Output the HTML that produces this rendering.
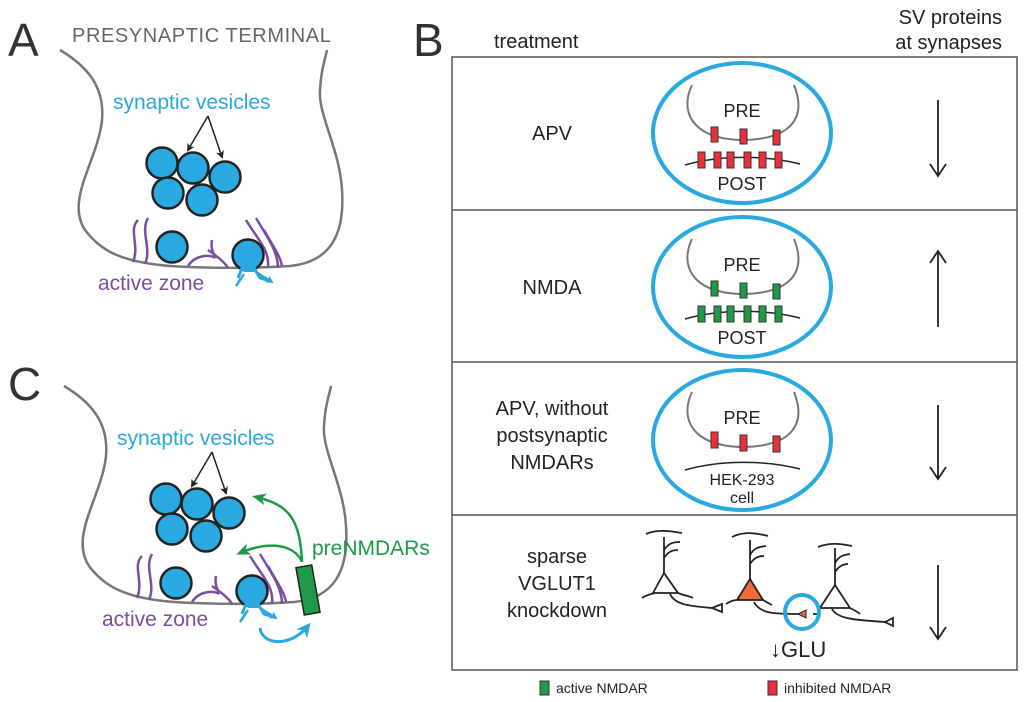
<!DOCTYPE html>
<html><head><meta charset="utf-8"><style>
html,body{margin:0;padding:0;background:#fff;}
svg{display:block;}
text{font-family:"Liberation Sans",sans-serif;}
</style></head><body>
<svg width="1024" height="702" viewBox="0 0 1024 702" xmlns="http://www.w3.org/2000/svg">
<defs>
<marker id="ak" markerWidth="8" markerHeight="8" refX="6" refY="4" orient="auto" markerUnits="userSpaceOnUse"><path d="M0,0 L8,4 L0,8 L2,4 z" fill="#222"/></marker>
<marker id="ag" markerWidth="14" markerHeight="12" refX="10" refY="6" orient="auto" markerUnits="userSpaceOnUse"><path d="M0,0 L14,6 L0,12 L4,6 z" fill="#1e9a48"/></marker>
<marker id="ab" markerWidth="14" markerHeight="14" refX="10" refY="7" orient="auto" markerUnits="userSpaceOnUse"><path d="M0,0 L14,7 L0,14 L4,7 z" fill="#29a9e0"/></marker>
<marker id="ab2" markerWidth="8" markerHeight="8" refX="6" refY="4" orient="auto" markerUnits="userSpaceOnUse"><path d="M0,0 L8,4 L0,8 L2,4 z" fill="#29a9e0"/></marker>
<g id="term">
<path d="M60,50 C85,65 105,85 102,120 C98,160 65,200 85,230 C100,250 120,262 170,266 C220,269 260,268 290,266 C330,262 345,235 342,190 C340,150 318,115 320,90 C321,70 325,60 327,50" fill="none" stroke="#777" stroke-width="2.5"/>
<g fill="none" stroke="#7a4fa0" stroke-width="2.5">
<path d="M138,220 C128,230 140,245 133,262"/>
<path d="M148,218 C140,232 152,248 145,264"/>
<path d="M188,266 C195,255 210,254 215,258 M208,250 C215,255 225,262 228,268 M212,240 C210,250 215,255 215,258"/>
<path d="M246,220 C258,240 270,250 268,268"/>
<path d="M256,218 C268,238 278,252 278,268"/>
<path d="M264,230 C272,245 280,255 282,266"/>
</g>
<g fill="#29a9e0" stroke="#222" stroke-width="2.5">
<circle cx="162" cy="163" r="15.5"/><circle cx="193" cy="168" r="15.5"/><circle cx="225" cy="177" r="15.5"/>
<circle cx="168" cy="193" r="15.5"/><circle cx="202" cy="200" r="15.5"/>
<circle cx="172" cy="247" r="15.5"/><circle cx="248" cy="255" r="15.5"/>
</g>
<path d="M242,268 L238,278 M254,268 L260,278 L270,281" fill="none" stroke="#29a9e0" stroke-width="3"/>
<path d="M240,266 L256,266 L254,272 L244,272 z" fill="#29a9e0"/>
<path d="M244,274 L236,286 M256,272 L272,282" stroke="#29a9e0" stroke-width="2.5" marker-end="url(#ab2)"/>
<line x1="208" y1="116" x2="188" y2="150" stroke="#222" stroke-width="1.5" marker-end="url(#ak)"/>
<line x1="208" y1="116" x2="222" y2="157" stroke="#222" stroke-width="1.5" marker-end="url(#ak)"/>
<text x="113" y="109" font-size="21" fill="#29a9e0">synaptic vesicles</text>
<text x="98" y="290" font-size="21" fill="#7a4fa0">active zone</text>
</g>
</defs>

<text x="8" y="56" font-size="46" fill="#333">A</text>
<text x="72" y="42" font-size="20" fill="#666" letter-spacing="0.6">PRESYNAPTIC  TERMINAL</text>
<use href="#term"/>

<text x="8" y="400" font-size="46" fill="#333">C</text>
<g transform="translate(4,336)"><use href="#term"/></g>
<rect x="300" y="566" width="16" height="48" fill="#1e9a48" stroke="#222" stroke-width="1.5" transform="rotate(-10 308 590)"/>
<text x="312" y="555" font-size="21" fill="#1e9a48">preNMDARs</text>
<path d="M302,562 C300,520 290,505 256,497" fill="none" stroke="#1e9a48" stroke-width="2.5" marker-end="url(#ag)"/>
<path d="M302,562 C295,545 270,540 240,553" fill="none" stroke="#1e9a48" stroke-width="2.5" marker-end="url(#ag)"/>
<path d="M260,628 C262,645 290,648 308,626" fill="none" stroke="#29a9e0" stroke-width="3" marker-end="url(#ab)"/>

<text x="413" y="56" font-size="46" fill="#333">B</text>
<text x="494" y="48" font-size="20" fill="#222">treatment</text>
<text x="1002" y="24" font-size="20" fill="#222" text-anchor="end">SV proteins</text>
<text x="1002" y="49" font-size="20" fill="#222" text-anchor="end">at synapses</text>
<rect x="452" y="57" width="565" height="613" fill="none" stroke="#555" stroke-width="1.5"/>
<line x1="452" y1="210" x2="1017" y2="210" stroke="#555" stroke-width="1.5"/>
<line x1="452" y1="362" x2="1017" y2="362" stroke="#555" stroke-width="1.5"/>
<line x1="452" y1="515" x2="1017" y2="515" stroke="#555" stroke-width="1.5"/>

<g font-size="20" fill="#222" text-anchor="middle">
<text x="552" y="140">APV</text>
<text x="552" y="294">NMDA</text>
<text x="552" y="415">APV, without</text>
<text x="552" y="442">postsynaptic</text>
<text x="552" y="469">NMDARs</text>
<text x="557" y="563">sparse</text>
<text x="557" y="590">VGLUT1</text>
<text x="557" y="617">knockdown</text>
</g>

<g stroke="#222" stroke-width="1.8" fill="none">
<path d="M938,100 V175 M930,164 L938,176 L946,164"/>
<path d="M938,327 V252 M930,263 L938,251 L946,263"/>
<path d="M938,405 V478 M930,467 L938,479 L946,467"/>
<path d="M938,565 V638 M930,627 L938,639 L946,627"/>
</g>

<!-- row 1 -->
<g>
<ellipse cx="742" cy="133" rx="89" ry="70" fill="none" stroke="#29a9e0" stroke-width="4"/>
<path d="M692,85 C680,110 690,138 740,140 C795,140 806,115 794,85" fill="none" stroke="#777" stroke-width="2"/>
<text x="742" y="117" font-size="18" fill="#222" text-anchor="middle">PRE</text>
<path d="M685,165 C720,155 765,155 800,164" fill="none" stroke="#222" stroke-width="1.5"/>
<g fill="#e8313b" stroke="#333" stroke-width="1">
<rect x="711" y="127" width="7" height="15"/><rect x="740" y="129" width="7" height="15"/><rect x="773" y="130" width="7" height="15"/>
<rect x="698" y="152" width="7" height="16"/><rect x="714" y="152" width="7" height="16"/><rect x="727" y="152" width="7" height="16"/><rect x="744" y="152" width="7" height="16"/><rect x="759" y="152" width="7" height="16"/><rect x="775" y="152" width="7" height="16"/>
</g>
<text x="742" y="190" font-size="18" fill="#222" text-anchor="middle">POST</text>
</g>
<!-- row 2 -->
<g transform="translate(0,154)">
<ellipse cx="742" cy="133" rx="89" ry="70" fill="none" stroke="#29a9e0" stroke-width="4"/>
<path d="M692,85 C680,110 690,138 740,140 C795,140 806,115 794,85" fill="none" stroke="#777" stroke-width="2"/>
<text x="742" y="117" font-size="18" fill="#222" text-anchor="middle">PRE</text>
<path d="M685,165 C720,155 765,155 800,164" fill="none" stroke="#222" stroke-width="1.5"/>
<g fill="#1e9a48" stroke="#333" stroke-width="1">
<rect x="711" y="127" width="7" height="15"/><rect x="740" y="129" width="7" height="15"/><rect x="773" y="130" width="7" height="15"/>
<rect x="698" y="152" width="7" height="16"/><rect x="714" y="152" width="7" height="16"/><rect x="727" y="152" width="7" height="16"/><rect x="744" y="152" width="7" height="16"/><rect x="759" y="152" width="7" height="16"/><rect x="775" y="152" width="7" height="16"/>
</g>
<text x="742" y="190" font-size="18" fill="#222" text-anchor="middle">POST</text>
</g>
<!-- row 3 -->
<g>
<ellipse cx="742" cy="440" rx="89" ry="70" fill="none" stroke="#29a9e0" stroke-width="4"/>
<path d="M692,392 C680,417 690,445 740,447 C795,447 806,422 794,392" fill="none" stroke="#777" stroke-width="2"/>
<text x="742" y="424" font-size="18" fill="#222" text-anchor="middle">PRE</text>
<g fill="#e8313b" stroke="#333" stroke-width="1">
<rect x="711" y="432" width="7" height="16"/><rect x="740" y="435" width="7" height="16"/><rect x="773" y="436" width="7" height="16"/>
</g>
<path d="M685,470 C720,460 765,460 800,469" fill="none" stroke="#222" stroke-width="1.5"/>
<text x="742" y="485" font-size="16" fill="#222" text-anchor="middle">HEK-293</text>
<text x="742" y="503" font-size="16" fill="#222" text-anchor="middle">cell</text>
</g>
<!-- row 4 neurons -->
<g stroke="#222" stroke-width="1.8" fill="none">
<path d="M664,573 V537 M646,534 C655,530 665,530 682,533 M664,550 C668,544 672,542 680,542 M664,558 C668,552 672,550 678,550"/>
<path d="M664,573 L653,593 L678,593 z M642,598 C650,593 655,594 653,593 M678,593 C685,596 690,596 693,598"/>
<path d="M670,594 C675,605 690,606 712,608"/>
<path d="M712,608 L722,604 L722,612 z" fill="#fff"/>
<path d="M750,579 V540 M732,537 C742,532 752,532 768,536 M750,555 C754,548 758,547 766,546 M750,564 C754,558 758,556 764,556"/>
<path d="M750,579 L737,600 L763,600 z" fill="#f26a36"/>
<path d="M726,604 C732,600 736,600 737,600 M763,600 C768,603 770,604 772,605"/>
<path d="M754,602 C760,614 775,614 800,614"/>
<path d="M798,614 L806,610 L806,618 z" fill="#f26a36" stroke-width="1"/>
<path d="M813,614 H817"/>
<path d="M835,585 V548 M818,547 C828,543 838,543 852,546 M835,563 C839,556 843,555 850,554 M835,572 C839,566 843,564 848,564"/>
<path d="M835,585 L820,608 L850,608 z M850,608 C856,611 858,612 860,614"/>
<path d="M832,609 C838,620 860,620 885,622"/>
<path d="M885,622 L893,618 L893,626 z" fill="#fff"/>
</g>
<circle cx="802" cy="612" r="17" fill="none" stroke="#29a9e0" stroke-width="4"/>
<text x="770" y="657" font-size="22" fill="#222">↓GLU</text>

<!-- legend -->
<rect x="540" y="681" width="9" height="14" fill="#1e9a48" stroke="#333" stroke-width="1"/>
<text x="556" y="693" font-size="14" fill="#222">active NMDAR</text>
<rect x="768" y="681" width="9" height="14" fill="#e8313b" stroke="#333" stroke-width="1"/>
<text x="784" y="693" font-size="14" fill="#222">inhibited NMDAR</text>
</svg>
</body></html>
